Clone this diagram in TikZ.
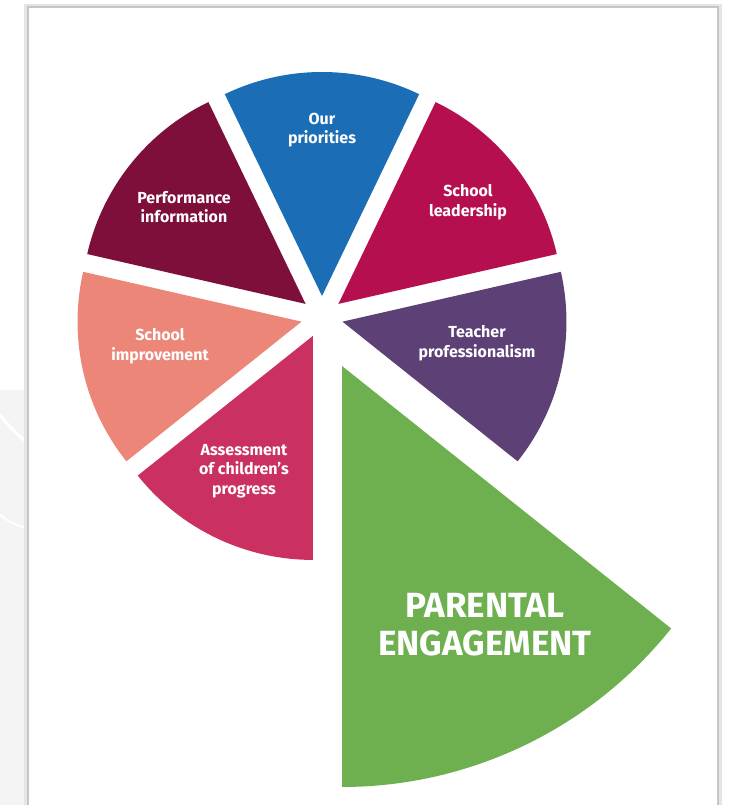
\documentclass[tikz,border=0pt]{standalone}
\usepackage{fontspec}
\setmainfont{Fira Sans}
\usetikzlibrary{calc}
\definecolor{prioblue}{RGB}{27,110,182}
\definecolor{perfmaroon}{RGB}{126,14,58}
\definecolor{leadcrimson}{RGB}{182,15,80}
\definecolor{teachpurple}{RGB}{93,64,118}
\definecolor{imprsalmon}{RGB}{235,134,120}
\definecolor{assesspink}{RGB}{203,49,96}
\definecolor{parentgreen}{RGB}{110,176,80}
\tikzset{sec label/.style={text=white,font=\bfseries\fontsize{16}{19.5}\selectfont,align=center,inner sep=0pt},
  big label/.style={text=white,font=\bfseries\fontsize{35}{38}\selectfont,align=center,inner sep=0pt},}

\begin{document}
\begin{tikzpicture}[x=1pt,y=1pt]
	\useasboundingbox (0,0) rectangle (728,805);
	% backdrop to the left of the page
	\fill[gray!9] (0,0) rectangle (28,415);
	\draw[white,line width=3] (0,390) .. controls (12,375) and (20,368) .. (28,362);
	\draw[white,line width=2] (0,290) .. controls (10,282) and (18,280) .. (28,276);
	% page edge
	\draw[gray!20,line width=4] (26,0) -- (26,799) -- (720,799) -- (720,0);
	\draw[gray!45,line width=1.2] (28,0) -- (28,798) -- (718,798) -- (718,0);

	\coordinate (c) at (322,488);
	\foreach \a/\col in {-38.57/teachpurple, 12.86/leadcrimson, 64.29/prioblue, 115.71/perfmaroon, 167.14/imprsalmon, 218.57/assesspink}
		\fill[\col] ($(c)+(\a+25.71:21)$) -- ++(\a:224) arc[start angle=\a, end angle=\a+51.43, radius=224] -- cycle;

	% the big slice
	\coordinate (g) at (342,439);
	\fill[parentgreen] (g) -- ++(-90:421) arc[start angle=-90, end angle=-38.57, radius=421] -- cycle;

	\node[sec label] (prio) at (322,675) {Our\\priorities};
	\node[sec label] (lead) at (468,603) {School\\leadership};
	\node[sec label] (perf) at (184,598) {Performance\\information};
	\node[sec label] (impr) at (160,459) {School\\improvement};
	\node[sec label] (teach) at (477,462) {Teacher\\professionalism};
	\node[sec label] (assess) at (244,334) {Assessment\\of children's\\progress};
	\node[big label] (parent) at (485,180) {PARENTAL\\ENGAGEMENT};
\end{tikzpicture}
\end{document}
